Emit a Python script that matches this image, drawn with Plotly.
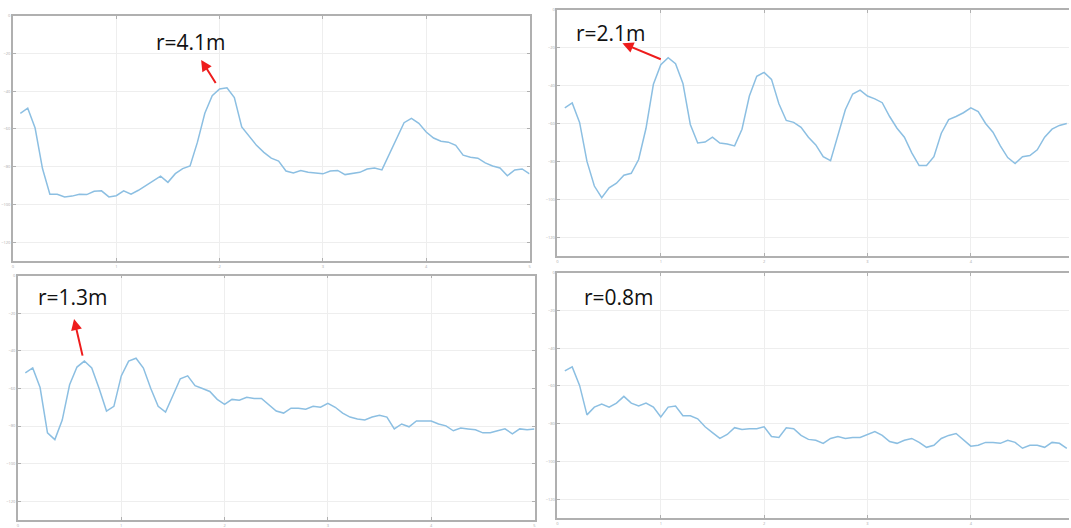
import plotly.graph_objects as go

# Four received-signal traces (dB) sampled along the range axis
r41 = [-51.7, -49.0, -59.5, -81.0, -94.6, -94.6, -96.0, -95.6, -94.6, -94.8,
       -93.0, -92.8, -96.0, -95.4, -92.8, -94.6, -92.5, -90.0, -87.7, -85.0,
       -88.3, -83.7, -81.0, -79.6, -67.0, -51.7, -42.4, -38.8, -38.2, -43.4,
       -58.9, -64.0, -68.7, -72.4, -75.5, -77.0, -82.3, -83.3, -82.1, -83.0,
       -83.4, -83.8, -82.3, -82.0, -84.2, -83.8, -83.0, -81.2, -80.7, -81.7,
       -73.4, -64.8, -56.7, -54.4, -57.0, -61.6, -64.8, -66.5, -67.0, -68.7,
       -73.9, -75.0, -75.5, -78.0, -79.6, -80.7, -84.8, -81.7, -81.2, -83.8]

r21 = [-51.7, -49.1, -59.4, -80.0, -93.0, -99.2, -94.0, -91.5, -87.3, -86.3,
       -79.0, -62.5, -39.3, -29.0, -25.3, -28.4, -38.8, -60.5, -70.3, -69.8,
       -67.2, -70.3, -70.8, -71.8, -63.0, -45.5, -35.1, -33.0, -36.7, -49.6,
       -58.4, -59.4, -62.0, -67.2, -71.3, -77.5, -79.6, -66.1, -52.7, -44.4,
       -42.4, -45.5, -47.0, -49.0, -56.3, -62.5, -67.2, -75.5, -82.2, -82.2,
       -77.5, -65.1, -57.9, -56.3, -54.3, -51.7, -53.7, -60.0, -64.6, -71.8,
       -78.0, -81.1, -77.5, -76.9, -73.9, -67.2, -63.0, -61.0, -60.0]

r13 = [-51.7, -49.1, -59.5, -83.6, -87.2, -76.8, -58.0, -48.6, -45.4, -49.1,
       -60.0, -72.0, -69.5, -53.3, -45.4, -43.9, -49.1, -60.0, -69.5, -72.6,
       -63.7, -54.8, -53.3, -58.5, -60.0, -61.6, -65.8, -68.4, -65.8, -66.3,
       -64.7, -65.3, -65.3, -68.9, -72.0, -73.1, -70.5, -70.5, -71.0, -69.5,
       -70.0, -67.9, -70.0, -73.1, -75.2, -76.2, -76.8, -75.2, -74.2, -75.2,
       -81.5, -78.9, -80.4, -77.3, -77.3, -77.3, -78.9, -79.9, -82.5, -81.0,
       -81.5, -82.0, -83.6, -83.6, -82.5, -81.5, -84.1, -81.5, -82.0, -81.5]

r08 = [-52.0, -49.9, -59.7, -75.3, -71.2, -69.6, -71.2, -69.1, -65.5, -69.1,
       -70.6, -69.1, -71.2, -76.4, -71.2, -70.6, -75.8, -75.8, -77.4, -81.6,
       -84.7, -87.8, -85.7, -82.1, -83.1, -82.6, -82.6, -81.6, -86.8, -87.3,
       -82.1, -82.6, -86.2, -88.3, -88.8, -90.4, -87.8, -86.8, -87.8, -87.3,
       -87.3, -85.7, -84.2, -86.2, -89.4, -90.4, -88.8, -87.8, -89.9, -92.5,
       -91.4, -87.8, -86.2, -85.2, -88.3, -91.9, -91.4, -89.9, -89.9, -90.4,
       -88.8, -89.9, -93.0, -91.4, -91.4, -92.5, -89.9, -90.4, -93.0]

labels = ["r=4.1m", "r=2.1m", "r=1.3m", "r=0.8m"]

y_ticks = [0, -20, -40, -60, -80, -100, -120]
x_tickvals = [0, 14, 28, 42, 56, 70]
x_ticktext = ["0", "1", "2", "3", "4", "5"]

W, H = 1071, 528
LINE = "#8cbfe2"
FRAME = "#b0b0b0"
GRID = "#eeeeee"


def px_x(p):
    return p / W


def px_y(p):
    return 1 - p / H


# panel boxes in pixels: (left, top, right, bottom), x range end, mirror y-axis
panels = [
    dict(box=(12, 13, 530, 263), xmax=70, mirror_y=True),
    dict(box=(558, 7, 1071, 258), xmax=69.3, mirror_y=False),
    dict(box=(17, 278, 535, 527), xmax=70, mirror_y=True),
    dict(box=(558, 275, 1071, 525), xmax=69.3, mirror_y=False),
]
series = [r41, r21, r13, r08]

fig = go.Figure()
layout = dict(
    width=W, height=H, margin=dict(l=0, r=0, t=0, b=0),
    paper_bgcolor="white", plot_bgcolor="white", showlegend=False,
)

for i, (p, ys) in enumerate(zip(panels, series)):
    n = i + 1
    xa = "x" if n == 1 else f"x{n}"
    ya = "y" if n == 1 else f"y{n}"
    fig.add_trace(go.Scatter(
        x=list(range(1, len(ys) + 1)), y=ys, mode="lines",
        line=dict(color=LINE, width=1.5), xaxis=xa, yaxis=ya,
        hoverinfo="skip",
    ))
    l, t, r, b = p["box"]
    layout["xaxis" if n == 1 else f"xaxis{n}"] = dict(
        domain=[px_x(l), min(px_x(r), 1.0)], range=[0, p["xmax"]],
        anchor=ya, tickvals=x_tickvals, ticktext=x_ticktext,
        showgrid=True, gridcolor=GRID, gridwidth=1, zeroline=False,
        showline=True, linecolor=FRAME, linewidth=1.5, mirror="ticks",
        ticks="inside", ticklen=3, tickcolor=FRAME,
        tickfont=dict(size=4, color="#aaaaaa"),
    )
    layout["yaxis" if n == 1 else f"yaxis{n}"] = dict(
        domain=[px_y(b), px_y(t)], range=[-130, 0],
        anchor=xa, tickvals=y_ticks,
        showgrid=True, gridcolor=GRID, gridwidth=1, zeroline=False,
        showline=True, linecolor=FRAME, linewidth=1.5,
        mirror="ticks" if p["mirror_y"] else False,
        ticks="inside", ticklen=3, tickcolor=FRAME,
        tickfont=dict(size=4, color="#aaaaaa"),
    )

fig.update_layout(**layout)

# label text positions (data units of each panel)
text_pos = [(24.1, -14.0), (7.2, -12.4), (7.4, -11.5), (8.4, -13.0)]
for i, (lab, (tx, ty)) in enumerate(zip(labels, text_pos)):
    n = i + 1
    fig.add_annotation(
        x=tx, y=ty, text=lab, showarrow=False,
        xref="x" if n == 1 else f"x{n}", yref="y" if n == 1 else f"y{n}",
        font=dict(family="Open Sans", size=21, color="#111111"),
    )

# red arrows pointing from the main peak towards the label
arrows = [
    (1, (25.5, -23.4), (27.6, -36.4)),
    (2, (8.8, -17.6), (14.2, -26.4)),
    (3, (7.6, -23.0), (8.8, -43.3)),
]
for n, (hx, hy), (tx, ty) in arrows:
    xr = "x" if n == 1 else f"x{n}"
    yr = "y" if n == 1 else f"y{n}"
    fig.add_annotation(
        x=hx, y=hy, ax=tx, ay=ty, xref=xr, yref=yr, axref=xr, ayref=yr,
        text="", showarrow=True, arrowhead=2, arrowsize=1.1,
        arrowwidth=2, arrowcolor="#ee1c1c",
    )

fig.write_html("out.html")
